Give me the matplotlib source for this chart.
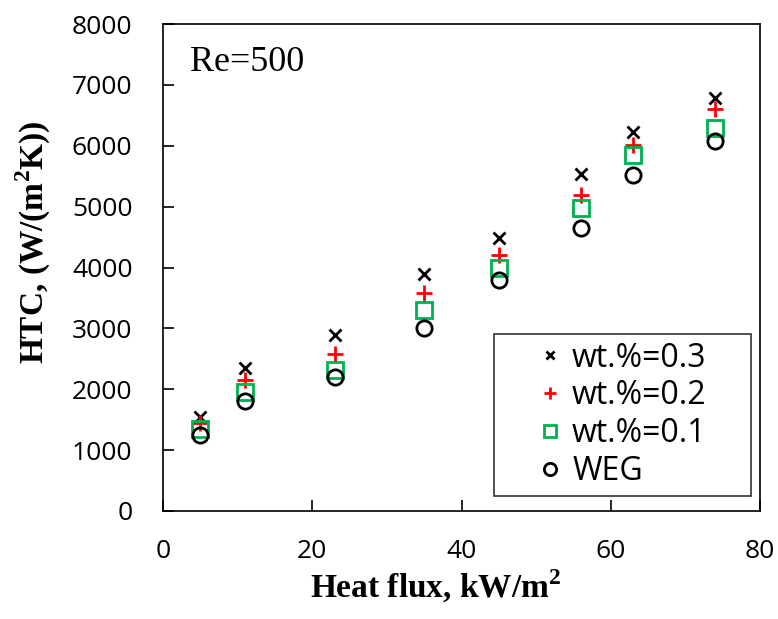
import matplotlib
matplotlib.use("Agg")
import matplotlib.pyplot as plt

# heat flux (kW/m2) and HTC (W/(m2K))
heat_flux = [5, 11, 23, 35, 45, 56, 63, 74]
htc_03 = [1540, 2350, 2900, 3900, 4480, 5530, 6230, 6780]
htc_02 = [1450, 2150, 2580, 3580, 4200, 5200, 6020, 6600]
htc_01 = [1350, 1950, 2320, 3300, 4000, 4980, 5850, 6300]
htc_weg = [1250, 1800, 2200, 3000, 3800, 4650, 5520, 6080]

TICK_FONT = "Open Sans"
SERIF = "Liberation Serif"
plt.rcParams["mathtext.fontset"] = "custom"
plt.rcParams["mathtext.bf"] = "Liberation Serif:bold"
plt.rcParams["mathtext.rm"] = "Liberation Serif"

fig = plt.figure(figsize=(7.78, 6.19), dpi=100)
ax = fig.add_axes([0.2095, 0.1745, 0.7675, 0.7865])

ax.plot(heat_flux, htc_03, "x", color="black", ms=8, mew=2, ls="none", label="wt.%=0.3")
ax.plot(heat_flux, htc_02, "+", color="red", ms=11, mew=2, ls="none", label="wt.%=0.2")
ax.plot(heat_flux, htc_01, "s", color="#00b050", mfc="none", ms=11, mew=2, ls="none", label="wt.%=0.1")
ax.plot(heat_flux, htc_weg, "o", color="black", mfc="none", ms=11, mew=2, ls="none", label="WEG")

ax.set_xlim(0, 80)
ax.set_ylim(0, 8000)
ax.set_xticks([0, 20, 40, 60, 80])
ax.set_yticks(range(0, 8001, 1000))
ax.tick_params(direction="in", length=8, width=1.2, pad=22, labelsize=19)
ax.tick_params(axis="x", pad=20)
for lab in ax.get_xticklabels() + ax.get_yticklabels():
    lab.set_fontfamily(TICK_FONT)
for s in ax.spines.values():
    s.set_linewidth(1.2)
ax.tick_params(axis="x", which="both", top=False)
ax.tick_params(axis="y", which="both", right=False)

# Excel-style manually placed axis titles
ax.set_xlabel("Heat flux, kW/m$^\\mathbf{2}$", fontfamily=SERIF, fontweight="bold",
              fontsize=24)
ax.xaxis.set_label_coords(0.456, -0.116)
ax.set_ylabel("HTC, (W/(m$^\\mathbf{2}$K))", fontfamily=SERIF, fontweight="bold",
              fontsize=24)
ax.yaxis.set_label_coords(-0.184, 0.552)

ax.text(0.045, 0.955, "Re=500", transform=ax.transAxes, fontfamily=SERIF,
        fontsize=26, va="top", ha="left")

leg = ax.legend(loc="lower left", bbox_to_anchor=(0.554, 0.031, 0.431, 0.3),
                mode="expand", frameon=True, fancybox=False, edgecolor="black",
                prop={"family": TICK_FONT, "size": 23},
                markerscale=0.8, handlelength=3.0, handletextpad=-0.8,
                labelspacing=0.15, borderpad=0.25, borderaxespad=0)
leg.get_frame().set_linewidth(1.2)

fig.savefig("out.png", dpi=100)
